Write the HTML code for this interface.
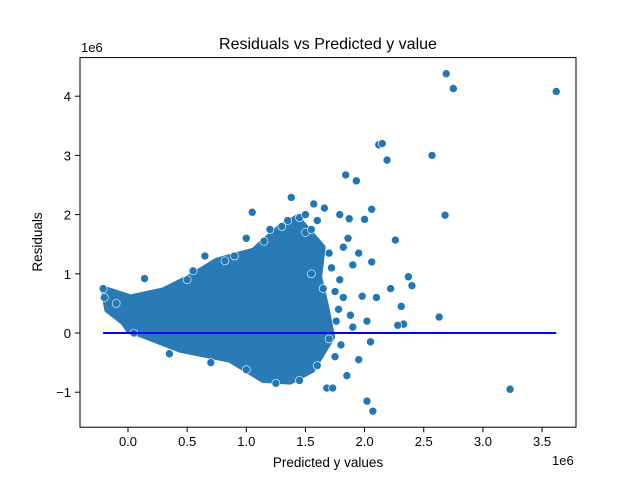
<!DOCTYPE html>
<html><head><meta charset="utf-8"><style>
body{margin:0;background:#fff}
svg text{font-family:"Liberation Sans","DejaVu Sans",sans-serif;fill:#000}
</style></head><body>
<svg id="chart" width="640" height="480" viewBox="0 0 640 480">
<rect width="640" height="480" fill="#fff"/>
<g id="plot"></g>
<text x="328" y="49" font-size="16" text-anchor="middle">Residuals vs Predicted y value</text>
<text x="328" y="467" font-size="13.5" text-anchor="middle">Predicted y values</text>
<text transform="translate(42,242) rotate(-90)" font-size="13.5" text-anchor="middle">Residuals</text>
<text x="81" y="52" font-size="13">1e6</text>
<text x="552" y="465" font-size="13">1e6</text>
</svg>
<script>
const xTicks=[0,0.5,1,1.5,2,2.5,3,3.5];
const xTickLabels=["0.0","0.5","1.0","1.5","2.0","2.5","3.0","3.5"];
const yTicks=[-1,0,1,2,3,4];
const yTickLabels=["\u22121","0","1","2","3","4"];
const coreX=[-0.21,0.02,0.30,0.52,0.75,1.06,1.28,1.43,1.65,1.62,1.68,1.73,1.56,1.37,1.14,0.86,0.44,0.00,-0.04,-0.18];
const coreY=[0.76,0.61,0.73,0.95,1.23,1.40,1.79,1.96,1.45,0.95,0.44,-0.07,-0.63,-0.83,-0.80,-0.46,-0.29,0.05,0.17,0.39];
const ptX=[2.69,2.75,3.62,2.12,2.15,2.19,2.57,1.84,1.93,2.68,2.26,2.63,3.23,2.02,2.07,1.68,1.73,1.85,1.38,1.05,1.57,1.66,1.79,2.00,2.06,1.87,2.37,2.40,2.22,2.31,2.33,2.28,1.98,2.10,2.02,2.05,1.95,1.90,1.95,1.82,1.86,2.06,1.79,1.82,1.88,0.14,0.65,0.82,1.00,1.20,1.30,1.90,1.75,1.78,1.80,1.75,1.70,1.60,1.50,1.70,-0.21,-0.20,0.50,1.45,0.55,0.90,1.15,1.50,1.55,1.72,1.76,1.60,1.45,1.25,1.00,0.70,0.35,0.05,-0.10,1.35,1.55,1.65];
const ptY=[4.38,4.13,4.08,3.18,3.20,2.92,3.00,2.67,2.57,1.99,1.57,0.27,-0.95,-1.15,-1.32,-0.93,-0.93,-0.72,2.29,2.04,2.18,2.11,2.00,1.92,2.09,1.93,0.95,0.80,0.75,0.45,0.15,0.13,0.62,0.60,0.20,-0.15,-0.45,0.10,1.35,1.45,1.60,1.20,0.90,0.60,0.30,0.92,1.30,1.22,1.60,1.75,1.80,1.15,0.70,0.40,-0.20,-0.40,-0.10,1.90,1.70,1.35,0.75,0.60,0.90,1.95,1.05,1.30,1.55,2.00,1.75,1.10,0.20,-0.55,-0.80,-0.85,-0.62,-0.50,-0.35,0.00,0.50,1.90,1.00,0.75];
const lineX=[-0.21,3.62];
const X0=80,X1=576,Y0=57.6,Y1=427.2;
const xs=v=>128+118.3*v, ys=v=>333-59.2*v;
const NS="http://www.w3.org/2000/svg";
const g=document.getElementById('plot');
function mk(t,a){const e=document.createElementNS(NS,t);for(const k in a)e.setAttribute(k,a[k]);g.appendChild(e);return e;}
const core=mk('polygon',{points:coreX.map((x,i)=>xs(x)+','+ys(coreY[i])).join(' '),fill:'#2a7ab5',stroke:'#2a7ab5','stroke-width':5,'stroke-linejoin':'round'});


ptX.forEach((x,i)=>{const c=mk('circle',{cx:xs(x),cy:ys(ptY[i]),r:4,fill:'#1f77b4',stroke:'#fff','stroke-width':0.6});

});
const zl=mk('line',{x1:xs(lineX[0]),x2:xs(lineX[1]),y1:ys(0),y2:ys(0),stroke:'#0000ff','stroke-width':2});


const fr=mk('rect',{x:X0,y:Y0,width:X1-X0,height:Y1-Y0,fill:'none',stroke:'#000','stroke-width':1});


xTicks.forEach((v,i)=>{mk('line',{x1:xs(v),x2:xs(v),y1:Y1,y2:Y1+5,stroke:'#000'});
const t=mk('text',{x:xs(v),y:Y1+19,'font-size':13,'text-anchor':'middle'});t.textContent=xTickLabels[i];

});
yTicks.forEach((v,i)=>{mk('line',{x1:X0-5,x2:X0,y1:ys(v),y2:ys(v),stroke:'#000'});
const t=mk('text',{x:X0-9,y:ys(v)+5,'font-size':13,'text-anchor':'end'});t.textContent=yTickLabels[i];

});
</script>
</body></html>
